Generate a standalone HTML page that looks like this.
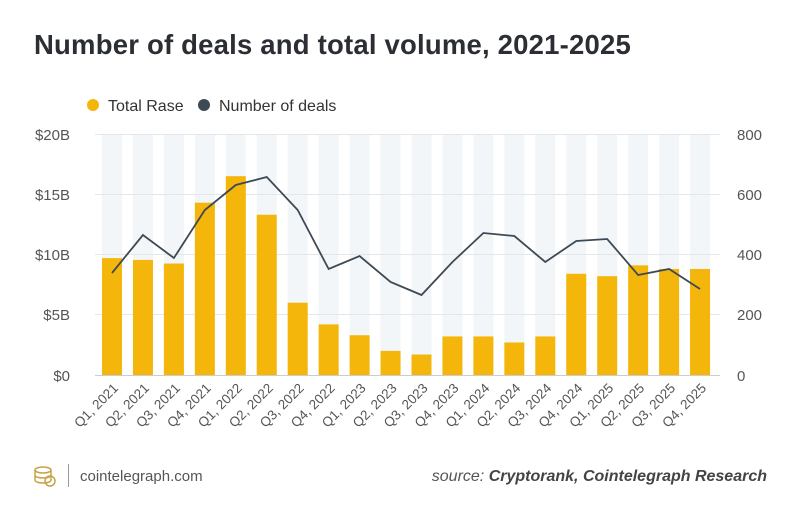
<!DOCTYPE html>
<html><head><meta charset="utf-8"><style>
body{margin:0;background:#fff;width:800px;height:520px;overflow:hidden;font-family:"Liberation Sans","DejaVu Sans",sans-serif;}
</style></head><body>
<svg width="800" height="520" xmlns="http://www.w3.org/2000/svg" font-family="Liberation Sans, DejaVu Sans, sans-serif">
<text x="34" y="54" font-size="27.5" font-weight="bold" fill="#2b2f33" letter-spacing="0.2">Number of deals and total volume, 2021-2025</text>
<circle cx="93" cy="105" r="6" fill="#F5B60B"/><text x="108" y="111" font-size="16" fill="#333">Total Rase</text>
<circle cx="204" cy="105" r="6" fill="#3d4a55"/><text x="219" y="111" font-size="16" fill="#333">Number of deals</text>
<g id="stripes" fill="#f3f6f8"></g>
<g stroke="#e3e7ea" stroke-width="1">
<line x1="95" x2="720" y1="134.5" y2="134.5"/><line x1="95" x2="720" y1="194.5" y2="194.5"/><line x1="95" x2="720" y1="254.5" y2="254.5"/><line x1="95" x2="720" y1="314.5" y2="314.5"/>
</g>
<g id="bars" fill="#F5B60B"></g>
<line x1="95" x2="720" y1="375.5" y2="375.5" stroke="#ccc"/>
<polyline id="ln" fill="none" stroke="#3d4a55" stroke-width="1.8"/>
<g font-size="15" fill="#555" text-anchor="end">
<text x="70" y="140">$20B</text><text x="70" y="200">$15B</text><text x="70" y="260">$10B</text><text x="70" y="320">$5B</text><text x="70" y="381">$0</text>
</g>
<g font-size="15" fill="#555">
<text x="737" y="140">800</text><text x="737" y="200">600</text><text x="737" y="260">400</text><text x="737" y="320">200</text><text x="737" y="381">0</text>
</g>
<g id="xl" font-size="13.5" fill="#555" text-anchor="end"></g>
<g transform="translate(34,466)" fill="none" stroke="#c8a24a" stroke-width="1.5">
<ellipse cx="9" cy="4" rx="8" ry="3"/><path d="M1 4v5c0 2 4 3 8 3s8-1 8-3V4M1 9v5c0 2 4 3 8 3s8-1 8-3V9"/><circle cx="16" cy="15" r="5"/>
</g>
<line x1="68.5" x2="68.5" y1="464" y2="487" stroke="#999"/>
<text x="80" y="481" font-size="15" fill="#555">cointelegraph.com</text>
<text x="767" y="481" font-size="16" fill="#555" text-anchor="end" font-style="italic">source: <tspan font-weight="bold" fill="#444">Cryptorank, Cointelegraph Research</tspan></text>
</svg>
<script>
var v=[9.7,9.55,9.25,14.3,16.5,13.3,6.0,4.2,3.3,2.0,1.7,3.2,3.2,2.7,3.2,8.4,8.2,9.1,8.8,8.8];
var ly=[273,235,258,210,185,177,210,269,256,282,295,262,233,236,262,241,239,275,269,289];
var ns="http://www.w3.org/2000/svg",s=document.getElementById('stripes'),b=document.getElementById('bars'),xl=document.getElementById('xl'),pts=[];
for(var i=0;i<20;i++){var c=112+i*30.95;
var r=document.createElementNS(ns,'rect');r.setAttribute('x',c-10);r.setAttribute('y',134);r.setAttribute('width',20);r.setAttribute('height',241);s.appendChild(r);
r=document.createElementNS(ns,'rect');var h=v[i]*12.05;r.setAttribute('x',c-10);r.setAttribute('y',375-h);r.setAttribute('width',20);r.setAttribute('height',h);b.appendChild(r);
pts.push(c+','+ly[i]);
var t=document.createElementNS(ns,'text');t.setAttribute('transform','translate('+(c+7)+',389) rotate(-45)');t.textContent='Q'+(i%4+1)+', '+(2021+Math.floor(i/4));xl.appendChild(t);}
document.getElementById('ln').setAttribute('points',pts.join(' '));
</script>
</body></html>
